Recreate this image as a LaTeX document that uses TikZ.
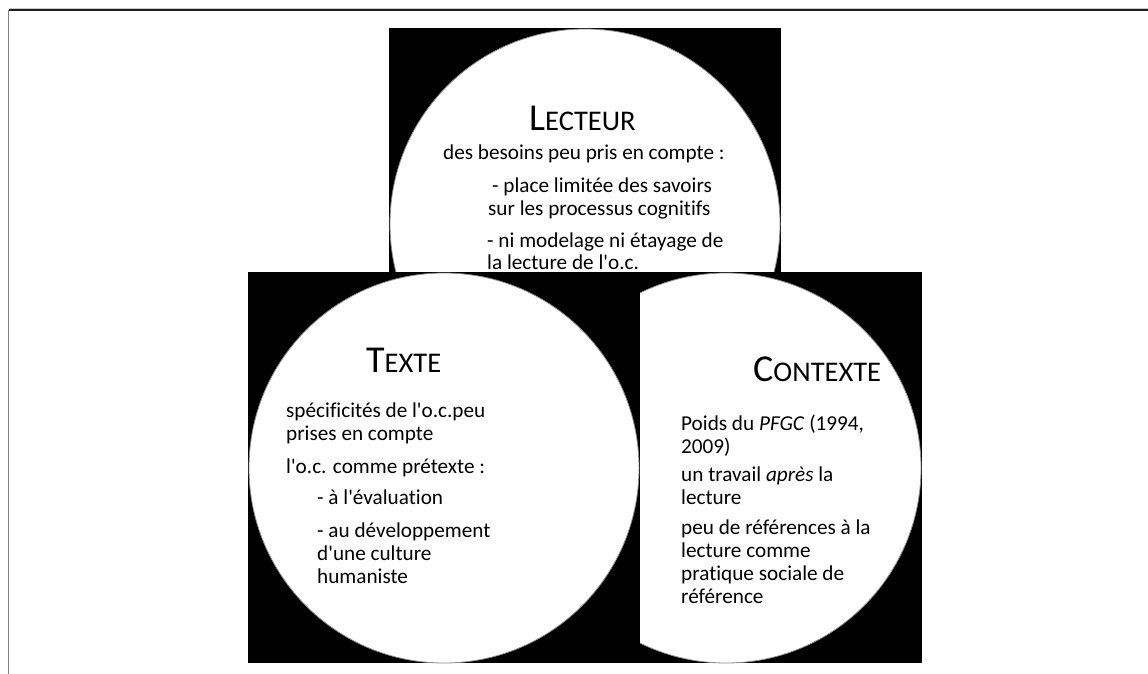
\documentclass[tikz,border=0pt]{standalone}
\usepackage{fontspec}
\setmainfont{Carlito}[Ligatures={TeXOff,NoCommon}]
\newcommand\hsc[2]{{\fontsize{38}{42}\selectfont #1}{\fontsize{28.5}{32}\selectfont #2}}
\begin{document}
\begin{tikzpicture}[x=1pt,y=-1pt,
  body/.style={anchor=base west, inner sep=0pt, font=\fontsize{21.2}{23}\selectfont},
  head/.style={anchor=base west, inner sep=0pt},
  sqr/.style={fill=black},
  disc/.style={fill=white, draw=black!45, line width=0.8pt}]
\useasboundingbox (0,0) rectangle (1148,674);
\fill[white] (0,0) rectangle (1148,674);
% frame
\draw[black!20, line width=0.8pt] (9,8.6) -- (1148,8.6);
\draw[black!88, line width=1.3pt] (9,10) -- (1148,10);
\draw[black!50, line width=1.6pt] (8.6,10) -- (8.6,674);
% LECTEUR
\fill[sqr] (389,28) rectangle (781,420);
\filldraw[disc] (585,224) circle (195);
\node[head] (lh) at (529,131) {\hsc{L}{ECTEUR}};
\node[body] (l1) at (443,159) {des besoins peu pris en compte :};
\node[body] (l2) at (492,192) {- place limitée des savoirs};
\node[body] (l3) at (488,215) {sur les processus cognitifs};
\node[body] (l4) at (487,247) {- ni modelage ni étayage de};
\node[body] (l5) at (487,269) {la lecture de l'o.c.};
% CONTEXTE
\fill[sqr] (530,272) rectangle (922,663);
\filldraw[disc] (726,468) circle (195);
% TEXTE
\fill[sqr] (248,272) rectangle (640,663);
\filldraw[disc] (444,468) circle (195);
\node[head] (th) at (366,372) {\hsc{T}{EXTE}};
\node[body] (t1) at (286,417) {spécificités de l'o.c.peu};
\node[body] (t2) at (286,440) {prises en compte};
\node[body] (t3) at (286,473) {l'o.c. comme prétexte :};
\node[body] (t4) at (317,504) {- à l'évaluation};
\node[body] (t5) at (317,537) {- au développement};
\node[body] (t6) at (317,560) {d'une culture};
\node[body] (t7) at (317,583) {humaniste};
% CONTEXTE text
\node[head] (ch) at (753,381) {\hsc{C}{ONTEXTE}};
\node[body] (c1) at (681,430) {Poids du \textit{PFGC} (1994,};
\node[body] (c2) at (681,453) {2009)};
\node[body] (c3) at (681,481) {un travail \textit{après} la};
\node[body] (c4) at (681,504) {lecture};
\node[body] (c5) at (681,534) {peu de références à la};
\node[body] (c6) at (681,557) {lecture comme};
\node[body] (c7) at (681,580) {pratique sociale de};
\node[body] (c8) at (681,603) {référence};
\end{tikzpicture}
\end{document}
